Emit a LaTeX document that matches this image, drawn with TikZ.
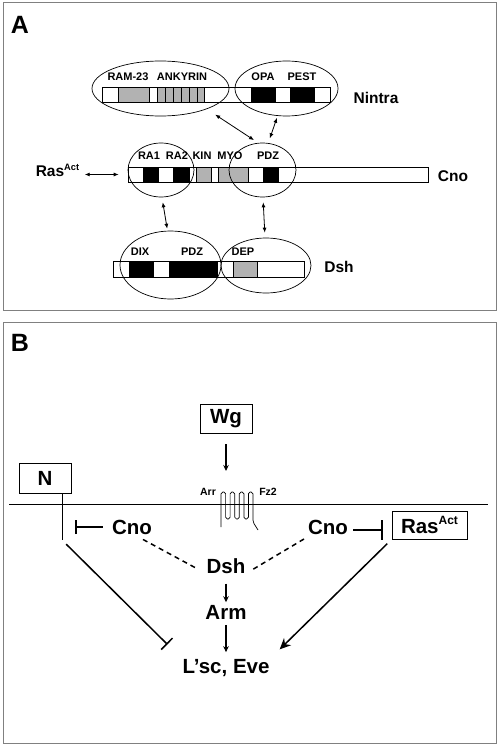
\documentclass[tikz,border=0pt]{standalone}
\usepackage{fontspec}
\setmainfont{Liberation Sans}
\usetikzlibrary{arrows.meta,shapes.geometric,positioning}

\begin{document}
\begin{tikzpicture}[x=1pt,y=-1pt,
  every node/.style={font=\bfseries},
  dom/.style={font=\fontsize{11}{12}\selectfont\bfseries},
  prot/.style={font=\fontsize{15.5}{17}\selectfont\bfseries},
  big/.style={font=\fontsize{20.5}{22}\selectfont\bfseries, inner sep=0pt},
  panel/.style={draw=gray, line width=1pt},
  bar/.style={rectangle, draw, fill=white, inner sep=0pt, line width=0.6pt},
  blk/.style={fill=black, draw=black, line width=0.6pt},
  gry/.style={fill=gray!60, draw=black, line width=0.6pt},
  ell/.style={ellipse, draw, inner sep=0pt, line width=0.7pt},
  pp/.style={{Latex[length=5pt,width=4pt]}-{Latex[length=5pt,width=4pt]}, line width=0.8pt},
  act/.style={-{Stealth[length=6pt,width=5.5pt]}, line width=1.3pt},
  inh/.style={-{Bar[width=#1,line width=1.5pt]}, line width=1.5pt},
  box/.style={rectangle, draw, line width=0.9pt, inner sep=0pt}
]
\useasboundingbox (0,0) rectangle (498,746);

% panel A
\draw[panel] (3,3) rectangle (496,310.5);
\path (20,25) node[font=\fontsize{25}{26}\selectfont\bfseries] (labA) {A};

\path (216,94.5) node[bar, minimum width=228pt, minimum height=15pt] (nintrabar) {}
      (278,174.5) node[bar, minimum width=300pt, minimum height=15pt] (cnobar) {}
      (208.5,269) node[bar, minimum width=191pt, minimum height=16pt] (dshbar) {};

% Nintra domains
\draw[gry] (118,87) rectangle (149,102);
\draw[gry] (157,87) rectangle (204,102);
\foreach \x in {165,173,...,197}
  \draw[line width=0.6pt] (\x,87) -- (\x,102);
\draw[blk] (251,87) rectangle (275,102);
\draw[blk] (290,87) rectangle (314,102);

% Cno domains
\draw[blk] (143,167) rectangle (158,182);
\draw[blk] (173,167) rectangle (189,182);
\draw[gry] (196,167) rectangle (211,182);
\draw[gry] (218,167) rectangle (248,182);
\draw[blk] (263,167) rectangle (278,182);

% Dsh domains
\draw[blk] (129,261) rectangle (153,277);
\draw[blk] (169,261) rectangle (217,277);
\draw[gry] (233,261) rectangle (257,277);

\path (160.5,88.5) node[ell, minimum width=137pt, minimum height=55pt] (nintraL) {}
      (286.5,88.5) node[ell, minimum width=103pt, minimum height=55pt] (nintraR) {}
      (161,170) node[ell, minimum width=66pt, minimum height=54pt] (cnoL) {}
      (262.5,170) node[ell, minimum width=67pt, minimum height=54pt] (cnoR) {}
      (170.5,265) node[ell, minimum width=101pt, minimum height=68pt] (dshL) {}
      (266,265.5) node[ell, minimum width=90pt, minimum height=55pt] (dshR) {};

\path (128,77) node[dom] (ram) {RAM-23}
      (182,77) node[dom] (ank) {ANKYRIN}
      (263,77) node[dom] (opa) {OPA}
      (302,77) node[dom] (pest) {PEST}
      (149,156) node[dom] (ra1) {RA1}
      (177,156) node[dom] (ra2) {RA2}
      (202,156) node[dom] (kin) {KIN}
      (230,156) node[dom] (myo) {MYO}
      (268,156) node[dom] (pdzC) {PDZ}
      (140,252) node[dom] (dix) {DIX}
      (192,252) node[dom] (pdzD) {PDZ}
      (243,252) node[dom] (dep) {DEP};

\path (376,98) node[prot] (nintra) {Nintra}
      (453,176) node[prot] (cno) {Cno}
      (339,267) node[prot] (dshA) {Dsh}
      (57.5,170) node[prot] (rasA) {Ras\raisebox{0.4em}{\fontsize{9.3}{10}\selectfont Act}};

\draw[pp, shorten <=2pt, shorten >=9pt] (rasA.east |- cnobar.west) -- (cnobar.west);
\draw[pp, shorten <=10pt, shorten >=5pt] (nintraL.-24) -- (cnoR.99);
\draw[pp, shorten <=2pt, shorten >=5pt] (nintraR.-108) -- (cnoR.78);
\draw[pp, shorten <=5pt, shorten >=2pt] (cnoL.-88) -- (dshL.95);
\draw[pp, shorten <=5pt, shorten >=5pt] (cnoR.-89) -- (dshR.92);

% panel B
\draw[panel] (3,322) rectangle (496,743);
\path (20,342.5) node[font=\fontsize{25}{26}\selectfont\bfseries] (labB) {B};

\draw[line width=0.7pt] (9,504) -- (488,504);
\draw[line width=0.7pt, rounded corners=1.8pt] (221,527) -- (221,492) -- (225.6,492) -- (225.6,519)
  -- (230.1,519) -- (230.1,492) -- (234.7,492) -- (234.7,519) -- (239.3,519) -- (239.3,492)
  -- (243.9,492) -- (243.9,519) -- (248.4,519) -- (248.4,492) -- (253,492) -- (253,522) -- (258,530);
\coordinate (rcp) at (226,492);
\path (208,492) node[font=\fontsize{10.5}{11}\selectfont\bfseries] (arr) {Arr}
      (268,492) node[font=\fontsize{10.5}{11}\selectfont\bfseries] (fz) {Fz2};

\path (226,418.5) node[box, big, minimum width=52pt, minimum height=29pt] (wg) {Wg}
      (45,478) node[box, big, minimum width=52pt, minimum height=30pt] (n) {N}
      (429.5,525) node[box, big, minimum width=75pt, minimum height=28pt] (ras) {Ras\raisebox{0.45em}{\fontsize{12}{12}\selectfont Act}}
      (132,527) node[big] (cnoBl) {Cno}
      (328,527) node[big] (cnoBr) {Cno}
      (226,566) node[big] (dsh) {Dsh}
      (226,612.5) node[big] (arm) {Arm}
      (226,668) node[big] (lsc) {L’sc, Eve};
\coordinate (nstem) at (62,540);

\draw[act, shorten <=11pt, shorten >=21pt] (wg.south) -- (rcp);
\draw[line width=0.9pt] (nstem |- n.south) -- (nstem);
\draw[inh=14pt, shorten <=9pt, shorten >=13pt] (cnoBl.west) -- (cnoBl.west -| nstem);
\draw[inh=20pt, shorten <=5pt, shorten >=9pt] ([yshift=-3pt]cnoBr.east) -- ([yshift=-3pt]cnoBr.east -| ras.west);
\draw[line width=1.5pt, dash pattern=on 5pt off 4pt, shorten >=12pt] ([xshift=11pt,yshift=-5pt]cnoBl.south) -- (dsh.south west);
\draw[line width=1.5pt, dash pattern=on 5pt off 4pt, shorten <=9pt] (dsh.south east) -- ([xshift=-3pt,yshift=-4pt]cnoBr.south west);
\draw[act, shorten <=10pt, shorten >=3pt] (dsh.south) -- (arm.north);
\draw[act, shorten <=5pt, shorten >=7pt] (arm.south) -- (lsc.north);
\draw[inh=16pt, shorten <=6pt, shorten >=21pt] (nstem) -- (lsc.north west);
\draw[-{Stealth[length=11pt,width=10pt]}, line width=1.5pt, shorten <=6pt, shorten >=14pt] (ras.south west) -- (lsc.north east);
\end{tikzpicture}
\end{document}
